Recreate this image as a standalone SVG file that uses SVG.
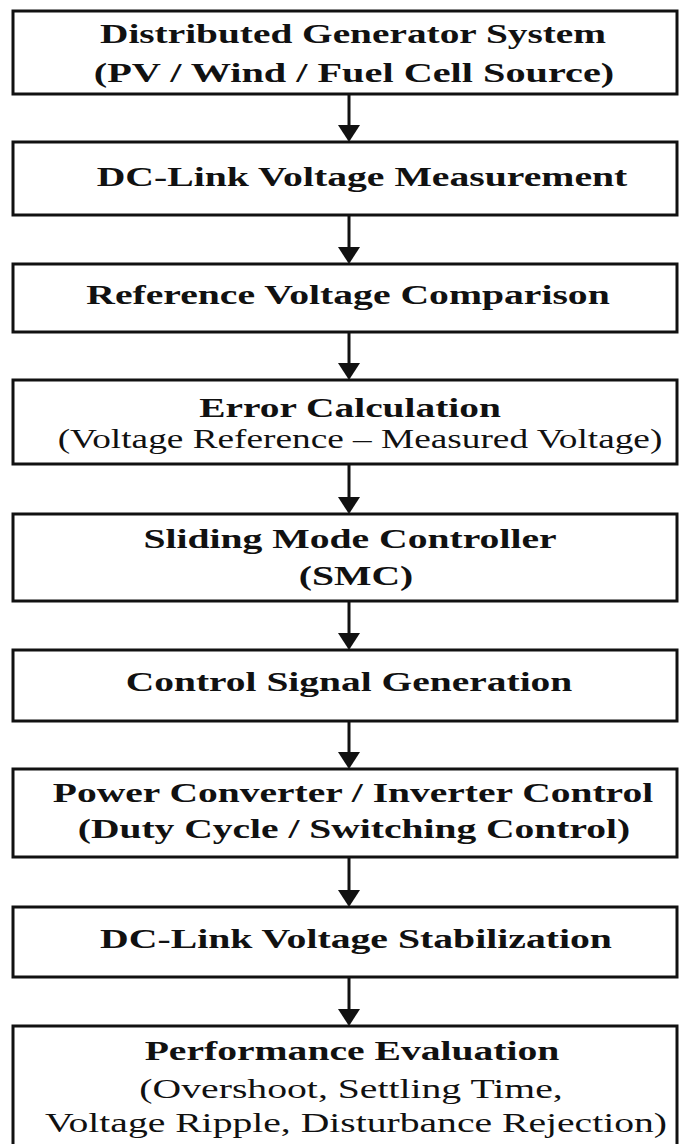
<svg xmlns="http://www.w3.org/2000/svg" width="679" height="1144" viewBox="0 0 679 1144">
<style>
.box{fill:#fff;stroke:#111;stroke-width:3}
.b{font-family:"Liberation Serif","Times New Roman",serif;font-weight:bold;font-size:27px;fill:#111;text-anchor:middle}
.n{font-family:"Liberation Serif","Times New Roman",serif;font-size:27px;fill:#111;text-anchor:middle}
.ln{stroke:#111;stroke-width:3}
.ah{fill:#111}
</style>
<rect width="679" height="1144" fill="#fff"/>
<g id="n1"><rect class="box" x="13" y="11" width="664" height="83"/>
<text class="b" transform="translate(353,43) scale(1.45,1)" textLength="349" lengthAdjust="spacingAndGlyphs">Distributed Generator System</text>
<text class="b" transform="translate(354,82) scale(1.45,1)" textLength="359" lengthAdjust="spacingAndGlyphs">(PV / Wind / Fuel Cell Source)</text></g>
<g id="n2"><rect class="box" x="13" y="142" width="664" height="73"/>
<text class="b" transform="translate(362,186) scale(1.45,1)" textLength="366" lengthAdjust="spacingAndGlyphs">DC-Link Voltage Measurement</text></g>
<g id="n3"><rect class="box" x="13" y="264" width="664" height="68"/>
<text class="b" transform="translate(348,304) scale(1.45,1)" textLength="361" lengthAdjust="spacingAndGlyphs">Reference Voltage Comparison</text></g>
<g id="n4"><rect class="box" x="13" y="380" width="664" height="84"/>
<text class="b" transform="translate(350,417) scale(1.45,1)" textLength="208" lengthAdjust="spacingAndGlyphs">Error Calculation</text>
<text class="n" transform="translate(360,448) scale(1.45,1)" textLength="417" lengthAdjust="spacingAndGlyphs">(Voltage Reference – Measured Voltage)</text></g>
<g id="n5"><rect class="box" x="13" y="514" width="664" height="87"/>
<text class="b" transform="translate(350,548) scale(1.45,1)" textLength="285" lengthAdjust="spacingAndGlyphs">Sliding Mode Controller</text>
<text class="b" transform="translate(356,585) scale(1.45,1)" textLength="79" lengthAdjust="spacingAndGlyphs">(SMC)</text></g>
<g id="n6"><rect class="box" x="13" y="650" width="664" height="71"/>
<text class="b" transform="translate(349,691) scale(1.45,1)" textLength="308" lengthAdjust="spacingAndGlyphs">Control Signal Generation</text></g>
<g id="n7"><rect class="box" x="13" y="769" width="664" height="88"/>
<text class="b" transform="translate(353,802) scale(1.45,1)" textLength="414" lengthAdjust="spacingAndGlyphs">Power Converter / Inverter Control</text>
<text class="b" transform="translate(354,838) scale(1.45,1)" textLength="381" lengthAdjust="spacingAndGlyphs">(Duty Cycle / Switching Control)</text></g>
<g id="n8"><rect class="box" x="13" y="907" width="664" height="70"/>
<text class="b" transform="translate(356,948) scale(1.45,1)" textLength="353" lengthAdjust="spacingAndGlyphs">DC-Link Voltage Stabilization</text></g>
<g id="n9"><rect class="box" x="13" y="1026" width="664" height="130"/>
<text class="b" transform="translate(352,1060) scale(1.45,1)" textLength="286" lengthAdjust="spacingAndGlyphs">Performance Evaluation</text>
<text class="n" transform="translate(351,1098) scale(1.45,1)" textLength="292" lengthAdjust="spacingAndGlyphs">(Overshoot, Settling Time,</text>
<text class="n" transform="translate(356,1132) scale(1.45,1)" textLength="429" lengthAdjust="spacingAndGlyphs">Voltage Ripple, Disturbance Rejection)</text></g>
<g id="connectors">
<line class="ln" x1="349" y1="94" x2="349" y2="126"/><polygon class="ah" points="338,125 360,125 349,142"/>
<line class="ln" x1="349" y1="215" x2="349" y2="248"/><polygon class="ah" points="338,247 360,247 349,264"/>
<line class="ln" x1="349" y1="332" x2="349" y2="364"/><polygon class="ah" points="338,363 360,363 349,380"/>
<line class="ln" x1="349" y1="464" x2="349" y2="498"/><polygon class="ah" points="338,497 360,497 349,514"/>
<line class="ln" x1="349" y1="601" x2="349" y2="634"/><polygon class="ah" points="338,633 360,633 349,650"/>
<line class="ln" x1="349" y1="721" x2="349" y2="753"/><polygon class="ah" points="338,752 360,752 349,769"/>
<line class="ln" x1="349" y1="857" x2="349" y2="891"/><polygon class="ah" points="338,890 360,890 349,907"/>
<line class="ln" x1="349" y1="977" x2="349" y2="1010"/><polygon class="ah" points="338,1009 360,1009 349,1026"/>
</g>
</svg>
